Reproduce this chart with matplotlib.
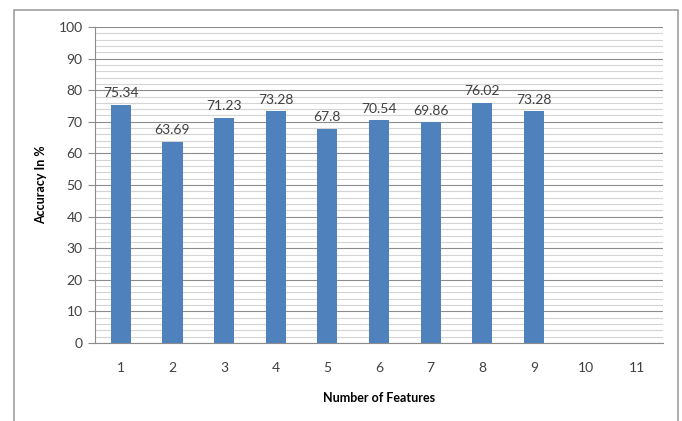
import matplotlib
matplotlib.use("Agg")
import matplotlib.pyplot as plt
from matplotlib.patches import Rectangle
from matplotlib.ticker import MultipleLocator

features = ["1", "2", "3", "4", "5", "6", "7", "8", "9", "10", "11"]
accuracy = [75.34, 63.69, 71.23, 73.28, 67.8, 70.54, 69.86, 76.02, 73.28]
value_labels = ["75.34", "63.69", "71.23", "73.28", "67.8", "70.54", "69.86", "76.02", "73.28"]

BAR = "#4f81bd"
MAJOR = "#8c8c8c"
MINOR = "#d4d4d4"
TEXT = "#404040"

plt.rcParams["font.family"] = ["Lato", "DejaVu Sans"]

fig = plt.figure(figsize=(6.82, 4.21), dpi=100)
fig.patch.set_facecolor("white")
# outer chart frame
fig.patches.append(Rectangle((14 / 682, -0.05), (678 - 14) / 682, 1.05 - 10 / 421,
                             transform=fig.transFigure, fill=False,
                             edgecolor="#a0a0a0", linewidth=1.2))

ax = fig.add_axes([95 / 682, 1 - 343 / 421, (663 - 95) / 682, (343 - 27) / 421])
x = list(range(len(features)))
ax.bar(x[:len(accuracy)], accuracy, width=0.39, color=BAR, zorder=3)
for xi, v, lab in zip(x, accuracy, value_labels):
    ax.annotate(lab, (xi, v), xytext=(0, 4), textcoords="offset points",
                ha="center", va="bottom", fontsize=10, color=TEXT)

ax.set_xlim(-0.5, len(features) - 0.5)
ax.set_ylim(0, 100)
ax.set_xticks(x)
ax.set_xticklabels(features)
ax.yaxis.set_major_locator(MultipleLocator(10))
ax.yaxis.set_minor_locator(MultipleLocator(2))
ax.grid(axis="y", which="major", color=MAJOR, linewidth=0.8, zorder=0)
ax.grid(axis="y", which="minor", color=MINOR, linewidth=0.8, zorder=0)
ax.tick_params(axis="x", length=0, pad=14, labelsize=10, colors=TEXT)
ax.tick_params(axis="y", which="major", length=5, color=MAJOR, pad=4,
               labelsize=10, labelcolor=TEXT)
ax.tick_params(axis="y", which="minor", length=0)
for side in ("top", "right"):
    ax.spines[side].set_visible(False)
ax.spines["left"].set_color(MAJOR)
ax.spines["bottom"].set_color(MAJOR)

ax.set_xlabel("Number of Features", fontsize=9, fontweight="bold", labelpad=13)
ax.set_ylabel("Accuracy In %", fontsize=9, fontweight="bold", labelpad=8)

fig.savefig("out.png", dpi=100, facecolor="white")
